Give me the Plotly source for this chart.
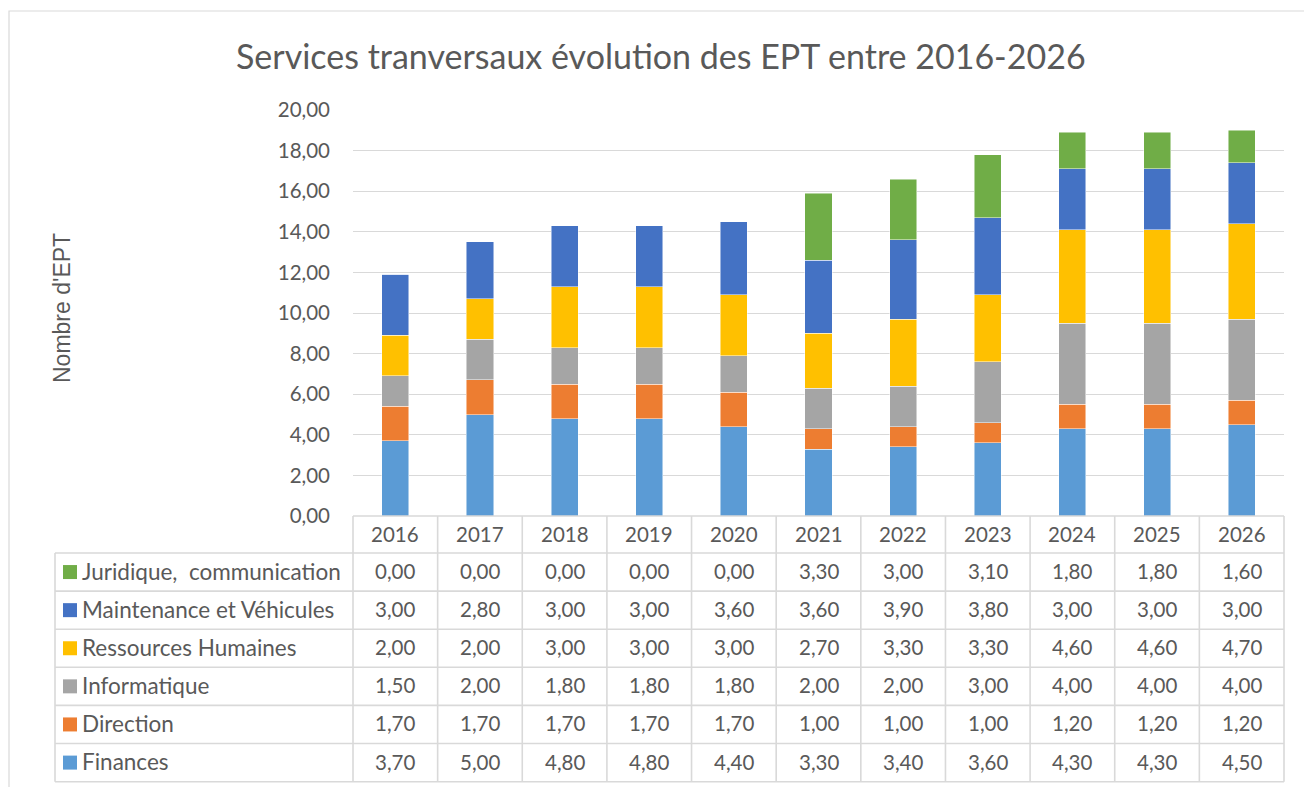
import plotly.graph_objects as go

years = ["2016", "2017", "2018", "2019", "2020", "2021", "2022", "2023", "2024", "2025", "2026"]
finances = [3.70, 5.00, 4.80, 4.80, 4.40, 3.30, 3.40, 3.60, 4.30, 4.30, 4.50]
direction = [1.70, 1.70, 1.70, 1.70, 1.70, 1.00, 1.00, 1.00, 1.20, 1.20, 1.20]
informatique = [1.50, 2.00, 1.80, 1.80, 1.80, 2.00, 2.00, 3.00, 4.00, 4.00, 4.00]
ressources_humaines = [2.00, 2.00, 3.00, 3.00, 3.00, 2.70, 3.30, 3.30, 4.60, 4.60, 4.70]
maintenance = [3.00, 2.80, 3.00, 3.00, 3.60, 3.60, 3.90, 3.80, 3.00, 3.00, 3.00]
juridique = [0.00, 0.00, 0.00, 0.00, 0.00, 3.30, 3.00, 3.10, 1.80, 1.80, 1.60]

series = [
    ("Finances", finances, "#5B9BD5"),
    ("Direction", direction, "#ED7D31"),
    ("Informatique", informatique, "#A5A5A5"),
    ("Ressources Humaines", ressources_humaines, "#FFC000"),
    ("Maintenance et Véhicules", maintenance, "#4472C4"),
    ("Juridique,  communication", juridique, "#70AD47"),
]

W, H = 1312, 787
OFF = 8  # page body margin


def px(x):
    return (x - OFF) / W


def py(y):
    return 1 - (y - OFF) / H


FONT = "Lato"
TXT = "#595959"
GRID = "#d9d9d9"

plot_left, plot_right = 353, 1284
plot_top, plot_bottom = 110, 516
table_left = 55
row_lines = [553, 591.1, 629.2, 667.3, 705.4, 743.5, 781.7]

fig = go.Figure()
for name, vals, col in series:
    fig.add_trace(go.Bar(
        x=years, y=vals, name=name, width=0.32,
        marker=dict(color=col, line=dict(color="rgba(255,255,255,0.6)", width=0.8)),
    ))

shapes = []
annotations = []

# outer chart border
shapes.append(dict(type="rect", xref="paper", yref="paper", x0=px(9), x1=px(1340), y0=py(11), y1=py(820),
                   line=dict(color="#d9d9d9", width=1.2), fillcolor="rgba(0,0,0,0)", layer="below"))

line_style = dict(color=GRID, width=1.6)
ncol = len(years)
col_w = (plot_right - plot_left) / ncol
for i in range(ncol + 1):
    x = plot_left + i * col_w
    shapes.append(dict(type="line", xref="paper", yref="paper", x0=px(x), x1=px(x),
                       y0=py(plot_bottom), y1=py(row_lines[-1]), line=line_style))
shapes.append(dict(type="line", xref="paper", yref="paper", x0=px(table_left), x1=px(table_left),
                   y0=py(row_lines[0]), y1=py(row_lines[-1]), line=line_style))
shapes.append(dict(type="line", xref="paper", yref="paper", x0=px(plot_left), x1=px(plot_right),
                   y0=py(plot_bottom), y1=py(plot_bottom), line=line_style))
for y in row_lines:
    shapes.append(dict(type="line", xref="paper", yref="paper", x0=px(table_left), x1=px(plot_right),
                       y0=py(y), y1=py(y), line=line_style))


def fmt(v):
    return f"{v:.2f}".replace(".", ",")


NUM_SIZE = 20.5
LAB_SIZE = 22.5

for i, yr in enumerate(years):
    xc = plot_left + (i + 0.5) * col_w
    annotations.append(dict(x=px(xc), xref="paper", y=py((plot_bottom + row_lines[0]) / 2 - 1), yref="paper",
                            text=yr, showarrow=False, font=dict(family=FONT, size=NUM_SIZE, color=TXT),
                            xanchor="center", yanchor="middle"))

for r, (name, vals, col) in enumerate(reversed(series)):
    yc = (row_lines[r] + row_lines[r + 1]) / 2 - 1
    shapes.append(dict(type="rect", xref="paper", yref="paper", x0=px(63), x1=px(77),
                       y0=py(yc - 6), y1=py(yc + 8), fillcolor=col, line=dict(width=0)))
    annotations.append(dict(x=px(80), xref="paper", y=py(yc), yref="paper", text=name,
                            showarrow=False, font=dict(family=FONT, size=LAB_SIZE, color=TXT),
                            xanchor="left", yanchor="middle"))
    for i, v in enumerate(vals):
        xc = plot_left + (i + 0.5) * col_w
        annotations.append(dict(x=px(xc), xref="paper", y=py(yc), yref="paper", text=fmt(v),
                                showarrow=False, font=dict(family=FONT, size=NUM_SIZE, color=TXT),
                                xanchor="center", yanchor="middle"))

annotations.append(dict(x=px(62), xref="paper", y=py(308), yref="paper", text="Nombre d'EPT",
                        textangle=-90, showarrow=False,
                        font=dict(family="Liberation Sans", size=23, color=TXT),
                        xanchor="center", yanchor="middle"))

annotations.append(dict(x=px(661), xref="paper", y=py(55), yref="paper",
                        text="Services tranversaux évolution des EPT entre 2016-2026",
                        showarrow=False, font=dict(family=FONT, size=34, color=TXT),
                        xanchor="center", yanchor="middle"))

fig.update_layout(
    width=W, height=H,
    margin=dict(l=0, r=0, t=0, b=0, pad=0, autoexpand=False),
    paper_bgcolor="white", plot_bgcolor="white",
    barmode="stack",
    showlegend=False,
    separators=", ",
    xaxis=dict(type="category", domain=[px(plot_left), px(plot_right)], showticklabels=False,
               showgrid=False, showline=False, zeroline=False, ticks="", automargin=False,
               range=[-0.5, ncol - 0.5]),
    yaxis=dict(domain=[py(plot_bottom), py(plot_top)], range=[0, 20], dtick=2, tickformat=".2f",
               showgrid=True, gridcolor=GRID, gridwidth=1.3, zeroline=False, showline=False,
               ticks="", ticklabelstandoff=22, automargin=False,
               tickfont=dict(family=FONT, size=NUM_SIZE, color=TXT)),
    shapes=shapes,
    annotations=annotations,
)

fig.write_html("out.html")
